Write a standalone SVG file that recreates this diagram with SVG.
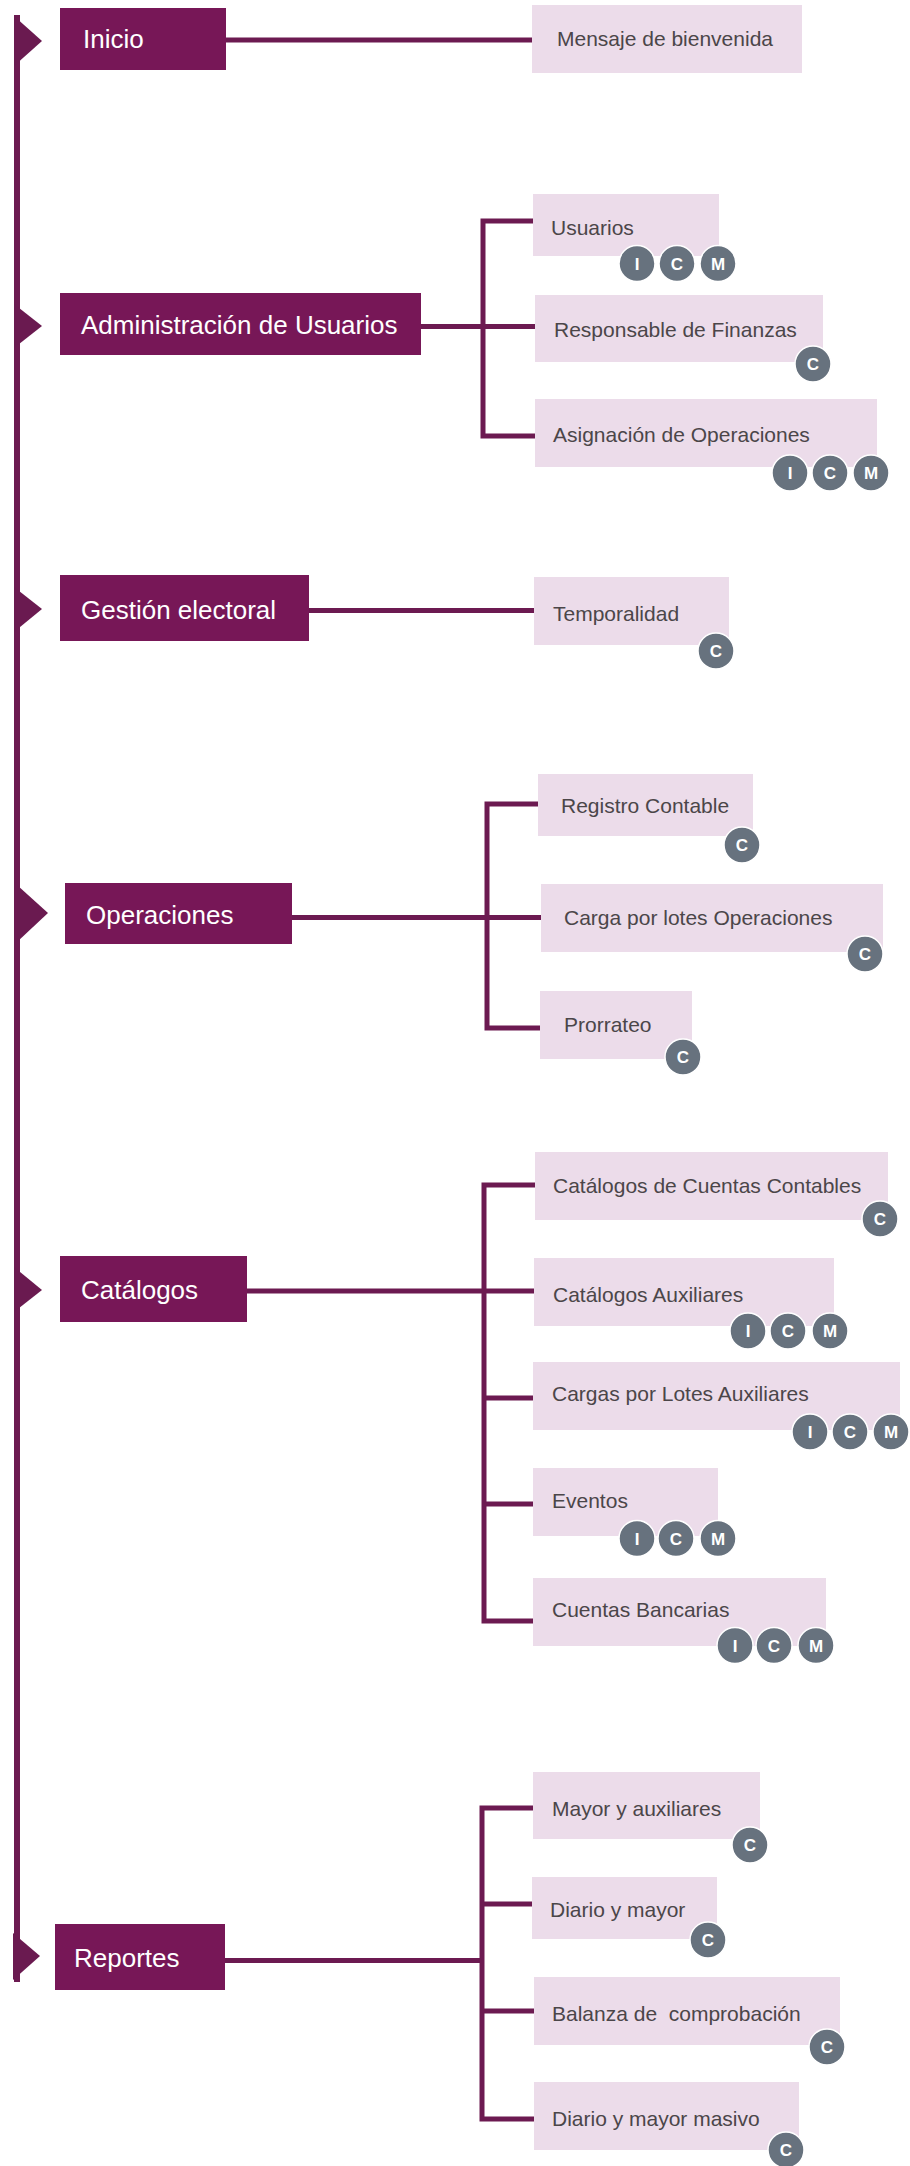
<svg xmlns="http://www.w3.org/2000/svg" width="910" height="2166" viewBox="0 0 910 2166">
<style>
.main rect{fill:#771757}
.main text{fill:#ffffff;font-family:"Liberation Sans",Arial,sans-serif;font-size:26px}
.tri{fill:#6a1a50}
.sub rect{fill:#ecdcea}
.sub text{fill:#4b4649;font-family:"Liberation Sans",Arial,sans-serif;font-size:21px;white-space:pre}
.badge circle{fill:#67727e;stroke:#ffffff;stroke-width:1.5}
.badge text{fill:#ffffff;font-family:"Liberation Sans",Arial,sans-serif;font-size:17px;font-weight:bold;text-anchor:middle}
.conn{fill:none;stroke:#6c1a51;stroke-width:5}
</style>
<rect width="910" height="2166" fill="#ffffff"/>
<g id="connectors">
<line class="conn" x1="17" y1="15" x2="17" y2="1982" style="stroke-width:6"/>
<path class="conn" d="M226 40H532"/>
<path class="conn" d="M421 326.5H535M535 221H483V436H535"/>
<path class="conn" d="M309 610.5H534"/>
<path class="conn" d="M292 917.5H541M538 804H487V1028H540"/>
<path class="conn" d="M247 1291H534M535 1185H484V1621H533M484 1398H533M484 1504H533"/>
<path class="conn" d="M225 1960.5H482M533 1808H482V2119H534M482 1904H532M482 2011H534"/>
</g>
<g id="inicio" class="main"><polygon class="tri" points="14,16 42,41 14,66"/><rect x="60" y="8" width="166" height="62"/><text x="83" y="48">Inicio</text></g>
<g id="admin" class="main"><polygon class="tri" points="14,304 42,326 14,348"/><rect x="60" y="293" width="361" height="62"/><text x="81" y="334">Administración de Usuarios</text></g>
<g id="gestion" class="main"><polygon class="tri" points="14,587 42,609 14,632"/><rect x="60" y="575" width="249" height="66"/><text x="81" y="619">Gestión electoral</text></g>
<g id="operaciones" class="main"><polygon class="tri" points="17,885 48,913 17,942"/><rect x="65" y="883" width="227" height="61"/><text x="86" y="924">Operaciones</text></g>
<g id="catalogos" class="main"><polygon class="tri" points="14,1267 42,1290 14,1312"/><rect x="60" y="1256" width="187" height="66"/><text x="81" y="1299">Catálogos</text></g>
<g id="reportes" class="main"><polygon class="tri" points="13,1933 40,1956 13,1980"/><rect x="55" y="1924" width="170" height="66"/><text x="74" y="1967">Reportes</text></g>

<g id="mensaje" class="sub"><rect x="532" y="5" width="270" height="68"/><text x="557" y="46">Mensaje de bienvenida</text></g>
<g id="usuarios" class="sub"><rect x="533" y="194" width="186" height="62"/><text x="551" y="235">Usuarios</text>
<g class="badge"><circle cx="637" cy="263.5" r="18"/><text x="637" y="269.5">I</text><circle cx="677" cy="263.5" r="18"/><text x="677" y="269.5">C</text><circle cx="718" cy="263.5" r="18"/><text x="718" y="269.5">M</text></g></g>
<g id="responsable" class="sub"><rect x="535" y="295" width="288" height="67"/><text x="554" y="337">Responsable de Finanzas</text>
<g class="badge"><circle cx="813" cy="364" r="18"/><text x="813" y="370">C</text></g></g>
<g id="asignacion" class="sub"><rect x="535" y="399" width="342" height="68"/><text x="553" y="442">Asignación de Operaciones</text>
<g class="badge"><circle cx="790" cy="473" r="18"/><text x="790" y="479">I</text><circle cx="830" cy="473" r="18"/><text x="830" y="479">C</text><circle cx="871" cy="473" r="18"/><text x="871" y="479">M</text></g></g>
<g id="temporalidad" class="sub"><rect x="534" y="577" width="195" height="68"/><text x="553" y="621">Temporalidad</text>
<g class="badge"><circle cx="716" cy="651" r="18"/><text x="716" y="657">C</text></g></g>
<g id="registro" class="sub"><rect x="538" y="774" width="215" height="62"/><text x="561" y="813">Registro Contable</text>
<g class="badge"><circle cx="742" cy="845" r="18"/><text x="742" y="851">C</text></g></g>
<g id="carga" class="sub"><rect x="541" y="884" width="342" height="68"/><text x="564" y="925">Carga por lotes Operaciones</text>
<g class="badge"><circle cx="865" cy="954" r="18"/><text x="865" y="960">C</text></g></g>
<g id="prorrateo" class="sub"><rect x="540" y="991" width="152" height="68"/><text x="564" y="1032">Prorrateo</text>
<g class="badge"><circle cx="683" cy="1057" r="18"/><text x="683" y="1063">C</text></g></g>
<g id="cuentascontables" class="sub"><rect x="535" y="1152" width="353" height="68"/><text x="553" y="1193">Catálogos de Cuentas Contables</text>
<g class="badge"><circle cx="880" cy="1219" r="18"/><text x="880" y="1225">C</text></g></g>
<g id="catauxiliares" class="sub"><rect x="534" y="1258" width="300" height="68"/><text x="553" y="1302">Catálogos Auxiliares</text>
<g class="badge"><circle cx="748" cy="1331" r="18"/><text x="748" y="1337">I</text><circle cx="788" cy="1331" r="18"/><text x="788" y="1337">C</text><circle cx="830" cy="1331" r="18"/><text x="830" y="1337">M</text></g></g>
<g id="cargasauxiliares" class="sub"><rect x="533" y="1362" width="367" height="68"/><text x="552" y="1401">Cargas por Lotes Auxiliares</text>
<g class="badge"><circle cx="810" cy="1432" r="18"/><text x="810" y="1438">I</text><circle cx="850" cy="1432" r="18"/><text x="850" y="1438">C</text><circle cx="891" cy="1432" r="18"/><text x="891" y="1438">M</text></g></g>
<g id="eventos" class="sub"><rect x="533" y="1468" width="185" height="68"/><text x="552" y="1508">Eventos</text>
<g class="badge"><circle cx="637" cy="1538.5" r="18"/><text x="637" y="1544.5">I</text><circle cx="676" cy="1538.5" r="18"/><text x="676" y="1544.5">C</text><circle cx="718" cy="1538.5" r="18"/><text x="718" y="1544.5">M</text></g></g>
<g id="cuentasbancarias" class="sub"><rect x="533" y="1578" width="293" height="68"/><text x="552" y="1617">Cuentas Bancarias</text>
<g class="badge"><circle cx="735" cy="1645.5" r="18"/><text x="735" y="1651.5">I</text><circle cx="774" cy="1645.5" r="18"/><text x="774" y="1651.5">C</text><circle cx="816" cy="1645.5" r="18"/><text x="816" y="1651.5">M</text></g></g>
<g id="mayoraux" class="sub"><rect x="533" y="1772" width="227" height="67"/><text x="552" y="1816">Mayor y auxiliares</text>
<g class="badge"><circle cx="750" cy="1845" r="18"/><text x="750" y="1851">C</text></g></g>
<g id="diariomayor" class="sub"><rect x="532" y="1877" width="185" height="62"/><text x="550" y="1917">Diario y mayor</text>
<g class="badge"><circle cx="708" cy="1940" r="18"/><text x="708" y="1946">C</text></g></g>
<g id="balanza" class="sub"><rect x="534" y="1977" width="306" height="68"/><text x="552" y="2021" xml:space="preserve">Balanza de  comprobación</text>
<g class="badge"><circle cx="827" cy="2047" r="18"/><text x="827" y="2053">C</text></g></g>
<g id="masivo" class="sub"><rect x="534" y="2082" width="265" height="68"/><text x="552" y="2126">Diario y mayor masivo</text>
<g class="badge"><circle cx="786" cy="2150" r="18"/><text x="786" y="2156">C</text></g></g>
</svg>
